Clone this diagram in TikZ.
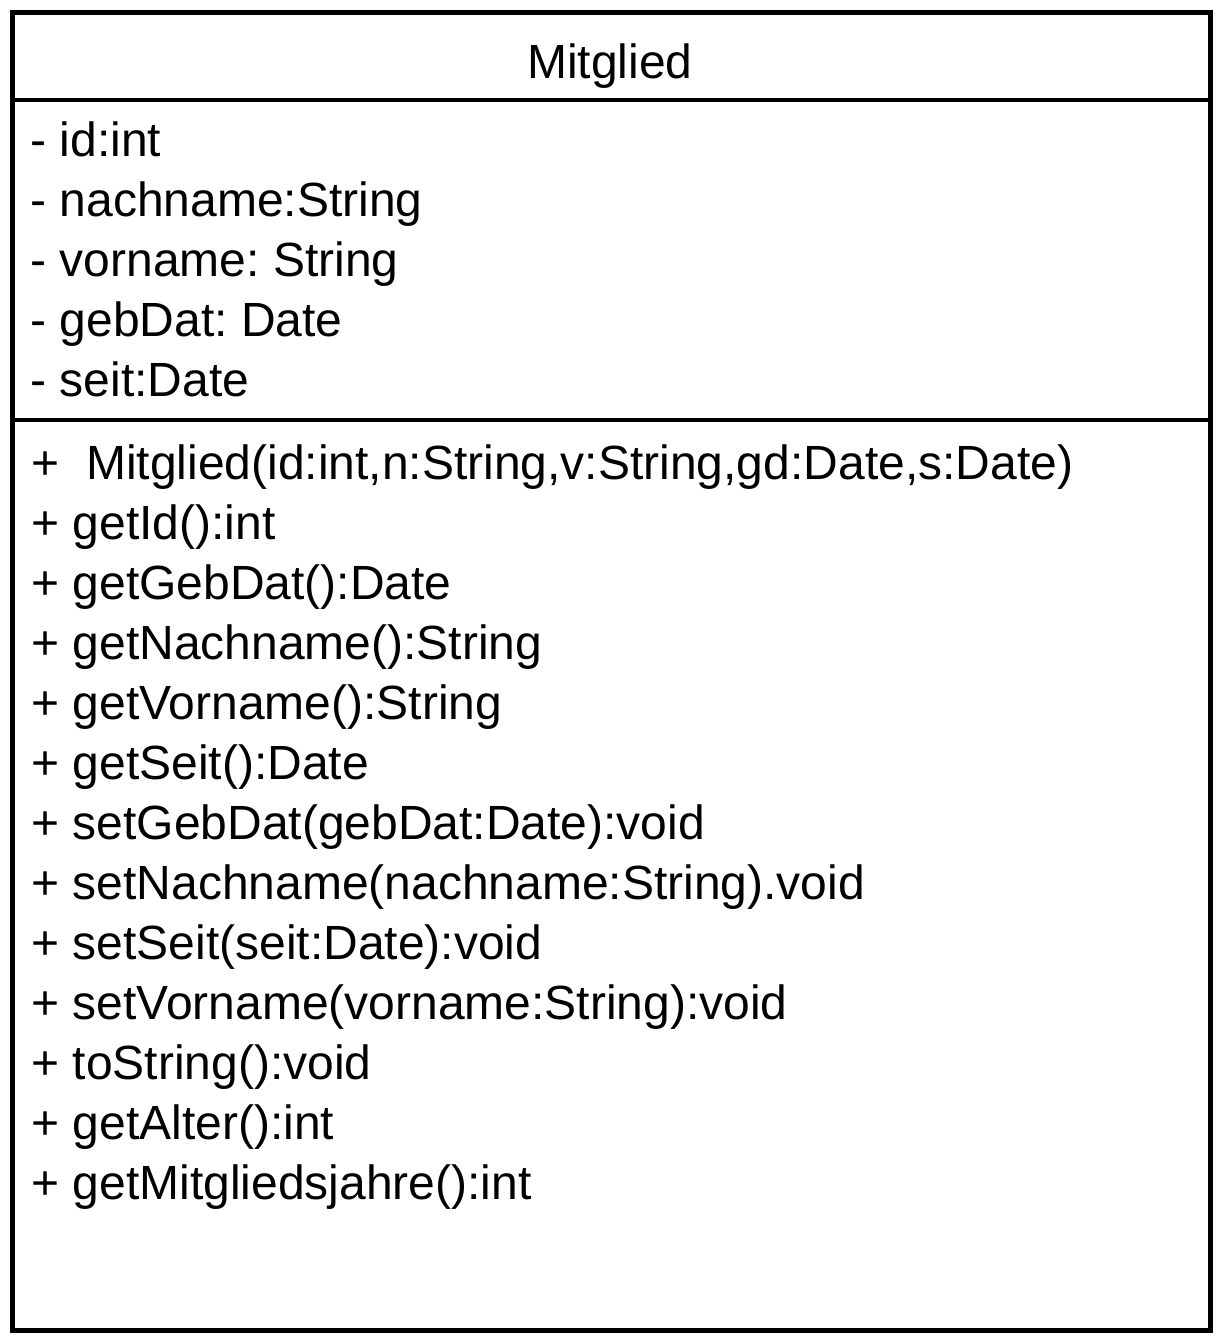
\documentclass[tikz,border=0pt]{standalone}
\usepackage{fontspec}
\setmainfont{Liberation Sans}
\usepackage{tikz}
\frenchspacing

\begin{document}
\begin{tikzpicture}[x=0.5pt,y=-0.5pt,
		zeile/.style={anchor=base west, inner sep=0pt, font=\fontsize{24}{28}\selectfont}]
			\useasboundingbox (0,0) rectangle (1220,1340);
			\draw[line width=2.5pt] (12.5,12.5) rectangle (1210.5,1330.5);
			\draw[line width=2pt] (12.5,99.5)--(1210.5,99.5);
			\draw[line width=2pt] (12.5,420)--(1210.5,420);
			\node[zeile, anchor=base] (titel) at (610,78) {Mitglied};
			\node[zeile] (id) at (30,156.5) {- id:int};
			\node[zeile] (nachname) at (30,216.5) {- nachname:String};
			\node[zeile] (vorname) at (30,276.5) {- vorname: String};
			\node[zeile] (gebdat) at (30,336.5) {- gebDat: Date};
			\node[zeile] (seit) at (30,396.5) {- seit:Date};
			\node[zeile] (konstr) at (31,479.5) {+\ \ Mitglied(id:int,n:String,v:String,gd:Date,s:Date)};
			\node[zeile] (getid) at (31,539.5) {+ getId():int};
			\node[zeile] (getgebdat) at (31,599.5) {+ getGebDat():Date};
			\node[zeile] (getnachname) at (31,659.5) {+ getNachname():String};
			\node[zeile] (getvorname) at (31,719.5) {+ getVorname():String};
			\node[zeile] (getseit) at (31,779.5) {+ getSeit():Date};
			\node[zeile] (setgebdat) at (31,839.5) {+ setGebDat(gebDat:Date):void};
			\node[zeile] (setnachname) at (31,899.5) {+ setNachname(nachname:String).void};
			\node[zeile] (setseit) at (31,959.5) {+ setSeit(seit:Date):void};
			\node[zeile] (setvorname) at (31,1019.5) {+ setVorname(vorname:String):void};
			\node[zeile] (tostring) at (31,1079.5) {+ toString():void};
			\node[zeile] (getalter) at (31,1139.5) {+ getAlter():int};
			\node[zeile] (getjahre) at (31,1199.5) {+ getMitgliedsjahre():int};
		\end{tikzpicture}
\end{document}
